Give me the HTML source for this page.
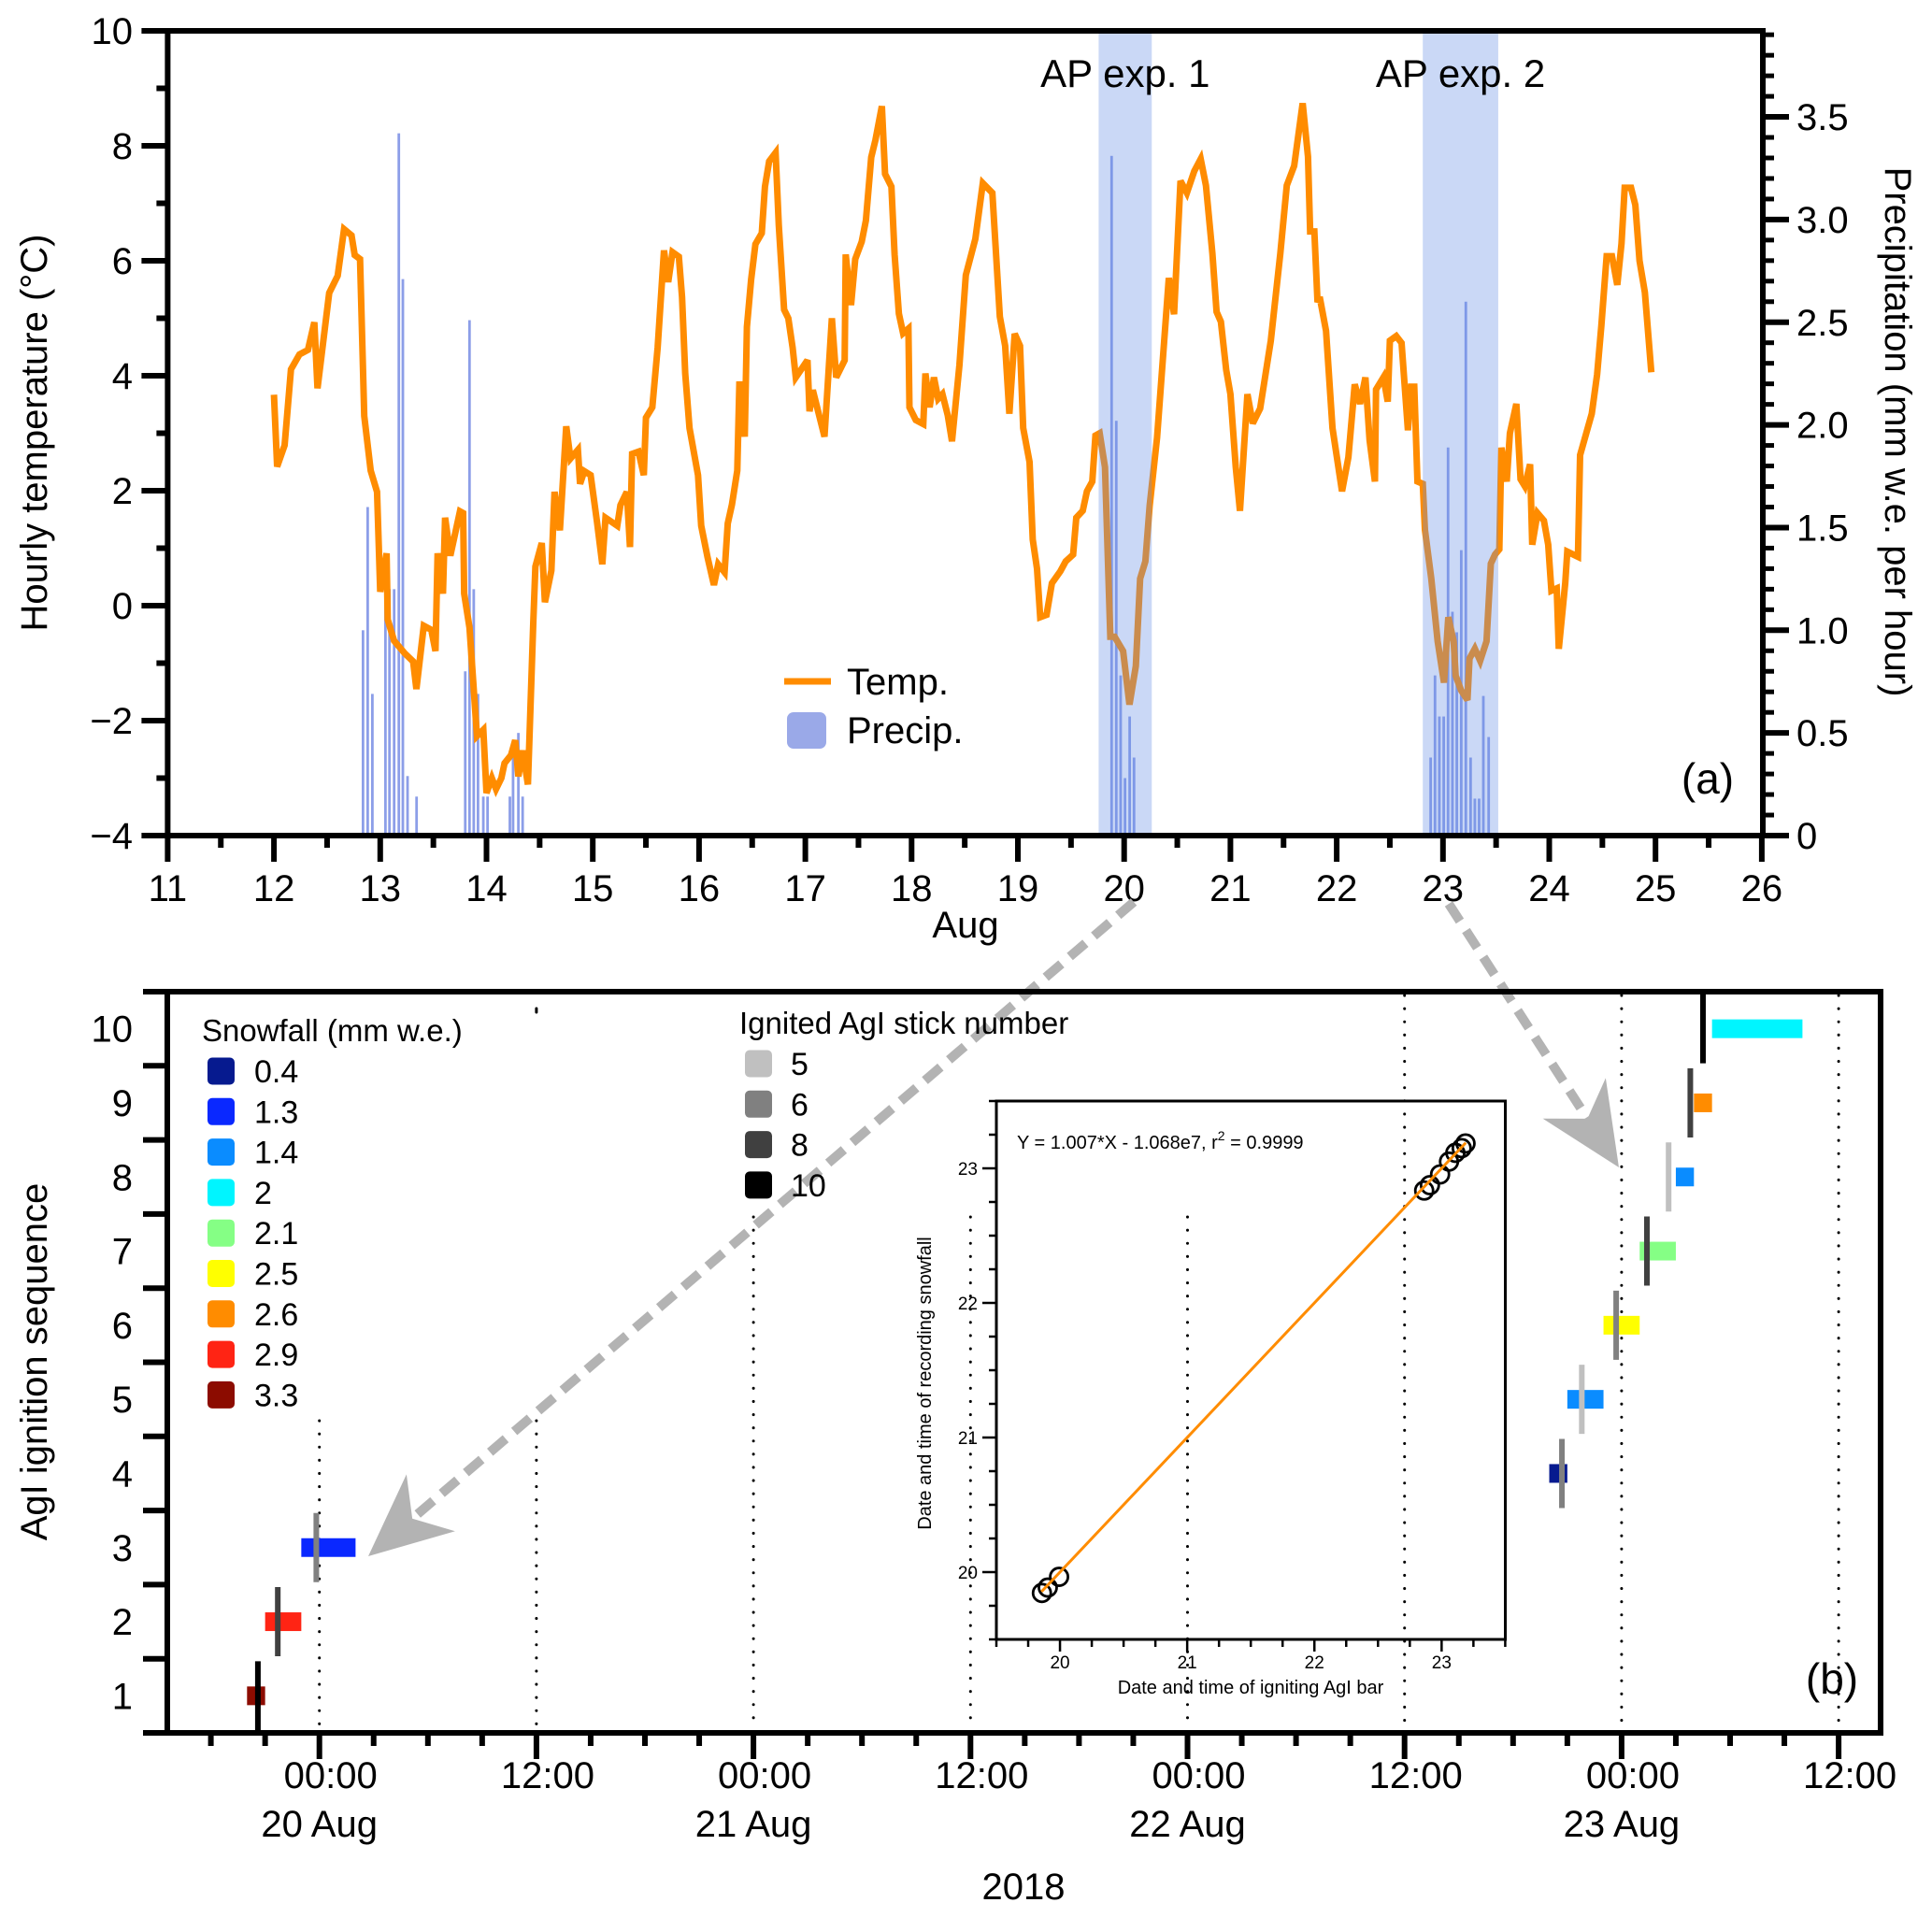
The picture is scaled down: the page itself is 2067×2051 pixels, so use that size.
<!DOCTYPE html>
<html><head><meta charset="utf-8"><style>
html,body{margin:0;padding:0;background:#fff}
svg{display:block;font-family:"Liberation Sans",Arial,sans-serif}
</style></head><body>
<svg id="fig" width="2067" height="2051" viewBox="0 0 2067 2051" xmlns="http://www.w3.org/2000/svg">
<rect width="2067" height="2051" fill="#fff"/>
<g id="top"></g>
<g id="bot"></g>
</svg>
<script>
// ---------- Panel (a) data ----------
const tempDays = [12.00,12.03,12.10,12.16,12.24,12.32,12.38,12.41,12.52,12.60,12.66,12.73,12.76,12.81,12.85,12.91,12.97,13.00,13.06,13.07,13.13,13.23,13.31,13.34,13.41,13.48,13.52,13.54,13.59,13.61,13.66,13.75,13.78,13.79,13.84,13.91,13.97,14.00,14.05,14.09,14.14,14.17,14.23,14.27,14.30,14.34,14.39,14.44,14.46,14.52,14.55,14.61,14.64,14.69,14.75,14.79,14.86,14.88,14.92,14.98,15.04,15.09,15.12,15.23,15.26,15.32,
15.35,15.37,15.43,15.48,15.50,15.56,15.61,15.67,15.71,15.75,15.81,15.84,15.87,15.91,15.99,16.02,16.08,16.14,16.18,16.24,16.27,16.31,16.36,16.38,16.43,16.45,16.49,16.53,16.59,16.62,16.66,16.72,16.75,16.80,16.84,16.88,16.91,17.02,17.04,17.07,17.18,17.25,17.29,17.37,17.38,17.43,17.47,17.53,17.57,17.62,17.66,17.72,17.75,17.81,17.84,17.88,17.92,17.97,17.98,18.04,18.11,18.13,18.17,18.21,18.25,18.29,18.34,18.38,
18.45,18.51,18.60,18.67,18.76,18.83,18.88,18.92,18.97,19.02,19.05,19.11,19.14,19.18,19.21,19.27,19.32,19.40,19.45,19.52,19.55,19.61,19.65,19.70,19.73,19.77,19.82,19.87,19.91,19.99,20.05,20.11,20.15,20.20,20.24,20.31,20.42,20.47,20.53,20.59,20.66,20.72,20.77,20.83,20.87,20.91,20.96,21.00,21.05,21.09,21.16,21.21,21.28,21.38,21.47,21.53,21.60,21.68,21.73,21.75,21.79,21.82,
21.84,21.90,21.96,22.05,22.11,22.17,22.22,22.27,22.31,22.36,22.37,22.44,22.48,22.50,22.56,22.61,22.67,22.70,22.73,22.76,22.81,22.83,22.89,22.95,23.01,23.05,23.10,23.12,23.17,23.23,23.25,23.30,23.35,23.41,23.45,23.49,23.53,23.55,23.60,23.63,23.69,23.73,23.77,23.82,23.84,23.89,23.95,23.99,24.02,24.07,24.09,24.15,24.17,24.27,24.29,24.40,24.45,24.49,24.54,24.59,24.64,24.68,24.71,24.77,24.81,24.85,24.90,24.96];
const tempValues = [3.67,2.42,2.79,4.11,4.37,4.45,4.93,3.78,5.44,5.74,6.55,6.44,6.10,6.03,3.30,2.35,1.98,0.24,0.91,-0.24,-0.61,-0.83,-0.97,-1.45,-0.35,-0.42,-0.79,0.91,0.21,1.53,0.87,1.64,1.61,0.21,-0.38,-2.27,-2.16,-3.26,-3.00,-3.19,-3.00,-2.74,-2.60,-2.34,-2.97,-2.52,-3.11,-0.31,0.68,1.09,0.06,0.61,1.98,1.31,3.12,2.56,2.71,2.12,2.34,2.27,1.46,0.72,1.53,1.39,1.75,1.98,
1.02,2.64,2.68,2.27,3.27,3.45,4.49,6.18,5.63,6.15,6.07,5.37,4.04,3.09,2.27,1.39,0.84,0.36,0.72,0.58,1.43,1.76,2.35,3.90,2.94,4.85,5.67,6.29,6.48,7.29,7.73,7.88,6.62,5.15,5.00,4.49,3.97,4.27,3.38,3.75,2.94,5.00,3.97,4.27,6.11,5.23,6.03,6.33,6.70,7.80,8.10,8.69,7.51,7.29,6.11,5.08,4.74,4.82,3.45,3.23,3.16,4.04,3.45,3.97,3.60,3.68,3.31,2.86,
4.19,5.75,6.38,7.35,7.18,5.03,4.52,3.34,4.73,4.52,3.09,2.50,1.15,0.64,-0.20,-0.16,0.39,0.60,0.77,0.89,1.53,1.65,1.99,2.16,2.96,3.00,2.41,-0.54,-0.54,-0.79,-1.72,-1.05,0.47,0.77,1.74,2.92,5.70,5.07,7.39,7.18,7.56,7.77,7.31,6.13,5.11,4.94,4.10,3.68,2.41,1.65,3.68,3.17,3.43,4.61,6.13,7.31,7.65,8.74,7.81,6.51,6.51,5.28,
5.37,4.78,3.09,1.99,2.58,3.85,3.51,3.97,2.88,2.16,3.76,3.97,3.55,4.61,4.69,4.57,3.05,3.81,3.81,2.16,2.12,1.32,0.47,-0.62,-1.34,-0.20,-0.62,-1.22,-1.47,-1.64,-0.92,-0.75,-0.96,-0.62,0.73,0.89,0.98,2.75,2.16,3.00,3.51,2.20,2.08,2.46,1.06,1.61,1.48,1.06,0.26,0.30,-0.75,0.39,0.94,0.85,2.62,3.34,4.02,4.86,6.08,6.08,5.58,6.30,7.27,7.27,6.97,6.00,5.45,4.06];
const precipDays = [12.838,12.882,12.926,13.049,13.087,13.131,13.175,13.213,13.257,13.342,13.80,13.84,13.88,13.92,13.97,14.01,14.22,14.25,14.30,14.34,19.882,19.926,19.967,20.008,20.052,20.093,22.884,22.925,22.966,23.007,23.048,23.089,23.130,23.172,23.215,23.26,23.30,23.34,23.38,23.43];
const precipValues = [1.00,1.60,0.69,1.20,1.20,1.20,3.42,2.71,0.29,0.19,0.80,2.51,1.20,0.69,0.19,0.19,0.19,0.39,0.50,0.19,3.31,2.02,0.78,0.28,0.58,0.38,0.38,0.78,0.58,0.58,1.89,1.09,0.99,1.39,2.60,0.38,0.18,0.18,0.68,0.48];
const apStarts = [19.76,22.81];
const apEnds = [20.26,23.52];
const apLabels = ["AP exp. 1","AP exp. 2"];
const topXTicks = [11,12,13,14,15,16,17,18,19,20,21,22,23,24,25,26];
const topYTicks = [-4,-2,0,2,4,6,8,10];
const precipTicks = [0,0.5,1.0,1.5,2.0,2.5,3.0,3.5];
const precipTickLabels = ["0","0.5","1.0","1.5","2.0","2.5","3.0","3.5"];

// ---------- Panel (b) data (hours relative to 20 Aug 00:00) ----------
const seqLevels = [1,2,3,4,5,6,7,8,9,10];
const snowStart = [-4,-3,-1,68,69,71,73,75,76,77];
const snowEnd = [-3,-1,2,69,71,73,75,76,77,82];
const snowAmount = ["3.3","2.9","1.3","0.4","1.4","2.5","2.1","1.4","2.6","2"];
const igniteTime = [-3.4,-2.3,-0.17,68.7,69.8,71.7,73.4,74.6,75.8,76.5];
const stickNumber = [10,8,6,6,5,6,8,5,8,10];
const snowLegend = ["0.4","1.3","1.4","2","2.1","2.5","2.6","2.9","3.3"];
const snowColors = ["#061a8f","#0a28ff","#0a8cff","#00f5ff","#85ff85","#ffff00","#ff8c00","#ff2414","#8c0c00"];
const stickLegend = [5,6,8,10];
const stickColors = ["#c0c0c0","#808080","#404040","#000000"];
const botXTicks = [0,12,24,36,48,60,72,84];
const botXTickLabels = ["00:00","12:00","00:00","12:00","00:00","12:00","00:00","12:00"];
const dateLabels = ["20 Aug","21 Aug","22 Aug","23 Aug"];
const dateHours = [0,24,48,72];
// inset data (days of August)
const insetX = [19.858,19.904,19.993,22.863,22.908,22.988,23.058,23.108,23.158,23.188];
const insetY = [19.845,19.885,19.965,22.835,22.875,22.955,23.05,23.115,23.15,23.185];
const fitX = [19.855,23.19];
const insetTicks = [20,21,22,23];

const NS="http://www.w3.org/2000/svg";
function mk(parent,tag,attrs,text){const e=document.createElementNS(NS,tag);for(const k in attrs)e.setAttribute(k,attrs[k]);if(text!==undefined)e.textContent=text;parent.appendChild(e);return e;}

// ======== Panel (a) ========
const T=document.getElementById('top');
const L=179.4,R=1886,TOP=33,BOT=894;
const xT=d=>L+(d-11)*113.7;
const yT=t=>TOP+(10-t)*61.5;
const yP=p=>BOT-p*219.7;

precipDays.forEach((d,i)=>{
  const r=mk(T,'rect',{x:xT(d)-1.4,y:yP(precipValues[i]),width:2.8,height:BOT-yP(precipValues[i]),fill:'#8c9ee8'});
  
  
});
let dstr=tempDays.map((d,i)=>(i?'L':'M')+xT(d).toFixed(1)+' '+yT(tempValues[i]).toFixed(1)).join(' ');
const tl=mk(T,'path',{d:dstr,fill:'none',stroke:'#ff8c00','stroke-width':7,'stroke-linejoin':'miter','stroke-miterlimit':3});


apStarts.forEach((s,i)=>{
  const b=mk(T,'rect',{x:xT(s),y:TOP,width:xT(apEnds[i])-xT(s),height:BOT-TOP,fill:'rgb(100,140,230)','fill-opacity':0.34});
  
  
  const t=mk(T,'text',{x:(xT(s)+xT(apEnds[i]))/2,y:93,'font-size':42,'text-anchor':'middle'},apLabels[i]);
  
  
});
mk(T,'rect',{x:L,y:TOP,width:R-L,height:BOT-TOP,fill:'none',stroke:'#000','stroke-width':6,});
for(let t=-4;t<=10;t++){const y=yT(t);mk(T,'line',{x1:L,x2:t%2===0?L-28:L-12,y1:y,y2:y,stroke:'#000','stroke-width':6});}
topYTicks.forEach(t=>{const e=mk(T,'text',{x:142,y:yT(t)+14,'font-size':40,'text-anchor':'end'},t<0?'\u2212'+(-t):String(t));
  });
for(let k=0;k<=39;k++){const p=k/10,y=yP(p);if(y<TOP-2)break;const major=k%5===0;mk(T,'line',{x1:R,x2:R+(major?28:12),y1:y,y2:y,stroke:'#000','stroke-width':major?6:5});}
precipTicks.forEach((p,i)=>{const e=mk(T,'text',{x:1922,y:yP(p)+14,'font-size':40},precipTickLabels[i]);
  });
for(let d=11;d<=26;d+=0.5){const x=xT(d);const major=Number.isInteger(d);mk(T,'line',{x1:x,x2:x,y1:BOT,y2:BOT+(major?28:13),stroke:'#000','stroke-width':6});}
topXTicks.forEach(d=>{const e=mk(T,'text',{x:xT(d),y:964,'font-size':40,'text-anchor':'middle'},String(d));
  });
mk(T,'text',{x:1033,y:1003,'font-size':40,'text-anchor':'middle',},'Aug');
mk(T,'text',{transform:'translate(50,463) rotate(-90)','font-size':40,'text-anchor':'middle',},'Hourly temperature (°C)');
mk(T,'text',{transform:'translate(2017,462) rotate(90)','font-size':40,'text-anchor':'middle',},'Precipitation (mm w.e. per hour)');
mk(T,'line',{x1:839,x2:889,y1:729,y2:729,stroke:'#ff8c00','stroke-width':7,});
mk(T,'text',{x:906,y:743,'font-size':40,},'Temp.');
mk(T,'rect',{x:842,y:762,width:42,height:39,rx:7,fill:'#9aa9e8',});
mk(T,'text',{x:906,y:795,'font-size':40,},'Precip.');
mk(T,'text',{x:1827,y:849,'font-size':46,'text-anchor':'middle',},'(a)');

// ======== Panel (b) ========
const B=document.getElementById('bot');
const BL=179,BR=2012,BT=1061,BB=1854;
const xB=h=>341.7+h*19.35;
const yB=k=>BB-(k-0.5)*79.3;

const dotStarts=[1520,1520,1302,1302,1302,BT+4,BT+4,BT+4];
botXTicks.forEach((h,i)=>{
  const l=mk(B,'line',{x1:xB(h),x2:xB(h),y1:dotStarts[i],y2:BB-3,stroke:'#000','stroke-width':3,'stroke-dasharray':'0.1 14','stroke-linecap':'round'});
  
});
mk(B,'line',{x1:xB(12),x2:xB(12),y1:BT+18,y2:BT+22,stroke:'#000','stroke-width':3,'stroke-linecap':'round'});

const IL=1066,IR=1610.5,IT=1178,IB=1754;
const xi=d=>IL+(d-19.5)*136.1;
const yi=d=>IB-(d-19.5)*144;
mk(B,'rect',{x:IL,y:IT,width:IR-IL,height:IB-IT,fill:'none',stroke:'#000','stroke-width':3,});
for(let k=0;k<=16;k++){const d=19.5+k*0.25;const major=Number.isInteger(d);
  mk(B,'line',{x1:xi(d),x2:xi(d),y1:IB,y2:IB+(major?13:8),stroke:'#000','stroke-width':2.5});
  mk(B,'line',{x1:IL,x2:IL-(major?15:8),y1:yi(d),y2:yi(d),stroke:'#000','stroke-width':2.5});}
insetTicks.forEach(d=>{
  const a=mk(B,'text',{x:xi(d),y:1785,'font-size':19,'text-anchor':'middle'},String(d));
  
  const b=mk(B,'text',{x:1046,y:yi(d)+7,'font-size':19,'text-anchor':'end'},String(d));
  
});
mk(B,'text',{x:1338,y:1812,'font-size':20,'text-anchor':'middle',},'Date and time of igniting AgI bar');
mk(B,'text',{transform:'translate(996,1480) rotate(-90)','font-size':20,'text-anchor':'middle',},'Date and time of recording snowfall');
const eq=mk(B,'text',{x:1088,y:1229,'font-size':20,},'Y = 1.007*X - 1.068e7, r');
mk(eq,'tspan',{dy:-9,'font-size':14},'2');
mk(eq,'tspan',{dy:9},' = 0.9999');
insetX.forEach((x,i)=>{
  const c=mk(B,'circle',{cx:xi(x),cy:yi(insetY[i]),r:9.5,fill:'none',stroke:'#000','stroke-width':2.8});
  
});
const fl=mk(B,'line',{x1:xi(fitX[0]),y1:yi(fitX[0]),x2:xi(fitX[1]),y2:yi(fitX[1]),stroke:'#ff8c00','stroke-width':3});


seqLevels.forEach((k,i)=>{
  const ci=snowLegend.indexOf(snowAmount[i]);
  const r=mk(B,'rect',{x:xB(snowStart[i]),y:yB(k)-10,width:xB(snowEnd[i])-xB(snowStart[i]),height:20,fill:snowColors[ci]});
  
  const si=stickLegend.indexOf(stickNumber[i]);
  const l=mk(B,'line',{x1:xB(igniteTime[i]),x2:xB(igniteTime[i]),y1:yB(k)-37,y2:yB(k)+37,stroke:stickColors[si],'stroke-width':6});
  
});

function arrow(sx,sy,tx,ty,name){
  const dx=tx-sx,dy=ty-sy,len=Math.hypot(dx,dy),ux=dx/len,uy=dy/len,px=-uy,py=ux;
  const hl=88,hw=40,nl=62;
  const nx=tx-ux*nl,ny=ty-uy*nl;
  const g=mk(B,'g',{});
  
  mk(g,'line',{x1:sx,y1:sy,x2:nx,y2:ny,stroke:'#b3b3b3','stroke-width':10,'stroke-dasharray':'22 12'});
  const pts=[[tx,ty],[tx-ux*hl+px*hw,ty-uy*hl+py*hw],[nx,ny],[tx-ux*hl-px*hw,ty-uy*hl-py*hw]];
  mk(g,'polygon',{points:pts.map(p=>p.join(',')).join(' '),fill:'#b3b3b3'});
}
arrow(1213,965,394,1665,'arrow-exp1');
arrow(1550,967,1732,1249,'arrow-exp2');

mk(B,'rect',{x:BL,y:BT,width:BR-BL,height:BB-BT,fill:'none',stroke:'#000','stroke-width':6,});
for(let k=0;k<=10;k++){const y=BB-k*79.3;mk(B,'line',{x1:BL,x2:BL-26,y1:y,y2:y,stroke:'#000','stroke-width':6});}
seqLevels.forEach(k=>{const e=mk(B,'text',{x:142,y:yB(k)+14,'font-size':40,'text-anchor':'end'},String(k));
  });
for(let h=-6;h<=84;h+=3){const x=xB(h);const major=h%12===0;mk(B,'line',{x1:x,x2:x,y1:BB,y2:BB+(major?28:14),stroke:'#000','stroke-width':6});}
botXTicks.forEach((h,i)=>{const e=mk(B,'text',{x:xB(h)+12,y:1913,'font-size':40,'text-anchor':'middle'},botXTickLabels[i]);
  });
dateHours.forEach((h,i)=>{const e=mk(B,'text',{x:xB(h),y:1965,'font-size':40,'text-anchor':'middle'},dateLabels[i]);
  });
mk(B,'text',{x:1095,y:2032,'font-size':40,'text-anchor':'middle',},'2018');
mk(B,'text',{transform:'translate(50,1457) rotate(-90)','font-size':40,'text-anchor':'middle',},'AgI ignition sequence');
mk(B,'text',{x:1960,y:1812,'font-size':46,'text-anchor':'middle',},'(b)');

mk(B,'text',{x:216,y:1114,'font-size':33,},'Snowfall (mm w.e.)');
snowLegend.forEach((s,i)=>{const cy=1146+i*43.3;
  const r=mk(B,'rect',{x:222,y:cy-14.5,width:29,height:29,rx:5,fill:snowColors[i]});
  
  const t=mk(B,'text',{x:272,y:cy+12,'font-size':34},s);
  });
mk(B,'text',{x:791,y:1106,'font-size':33,},'Ignited AgI stick number');
stickLegend.forEach((s,i)=>{const cy=1138+i*43.3;
  const r=mk(B,'rect',{x:797,y:cy-14.5,width:29,height:29,rx:5,fill:stickColors[i]});
  
  const t=mk(B,'text',{x:846,y:cy+12,'font-size':34},String(s));
  });
</script>
</body></html>
